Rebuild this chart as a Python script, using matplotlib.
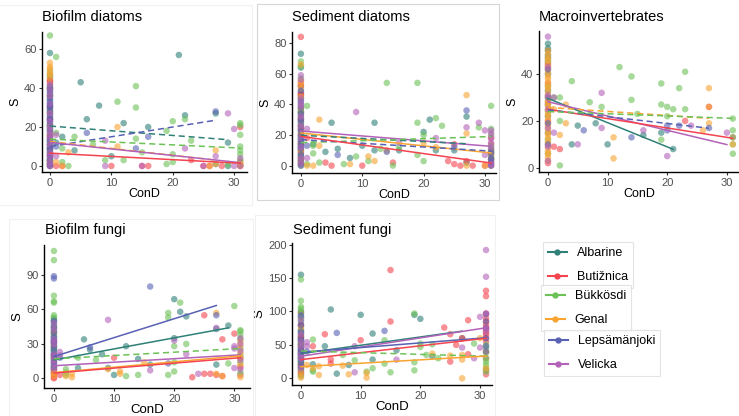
import numpy as np
import matplotlib.pyplot as plt
from matplotlib.lines import Line2D
from matplotlib.patches import Rectangle

plt.rcParams["font.family"] = ["Liberation Sans", "DejaVu Sans"]

RIVERS = ["Albarine", "Butižnica", "Bükkösdi", "Genal", "Lepsämänjoki", "Velicka"]
COLORS = ["#2F8077", "#F4444F", "#6CC257", "#F9A431", "#5861B4", "#B362B9"]

# ---- Biofilm diatoms: (ConD, S) per river
bd_albarine = [(0, 58), (0, 46), (0, 44), (0, 40), (0, 38), (0, 36), (0, 34), (0, 32), (0, 31), (0, 29), (0, 27),
               (0, 25), (0, 24), (0, 22), (0, 21), (0, 20), (0, 19), (0, 17), (0, 16), (0, 14), (0, 13), (0, 12),
               (0, 11), (0, 10), (0, 9), (0, 7), (0, 6), (0, 4), (0, 3), (0, 2), (0, 1),
               (1, 12), (2, 15), (4, 8), (5, 43), (6, 24), (8, 31), (10, 5), (12, 22), (16, 20), (21, 57), (22, 26),
               (27, 27), (29, 12), (29, 0), (27, 1)]
bd_butiznica = [(0, 44), (0, 43), (0, 40), (0, 30), (0, 24), (0, 15), (0, 9), (0, 5), (0, 3), (0, 1), (0, 0),
                (1, 0), (2, 0), (10, 0), (15, 0), (16, 0), (23, 3), (25, 0), (26, 0), (28, 0), (31, 20), (31, 2),
                (31, 0)]
bd_bukkosdi = [(0, 67), (0, 49), (0, 47), (0, 40), (0, 36), (0, 28), (0, 19), (0, 13), (0, 8), (0, 3), (0, 0),
               (1, 56), (1, 17), (2, 9), (2, 2), (3, 0), (4, 15), (7, 11), (9, 3), (11, 33), (12, 3), (14, 41),
               (14, 30), (14, 14), (15, 7), (19, 18), (19, 1), (20, 23), (20, 2), (20, 6), (22, 24), (23, 13),
               (29, 1), (31, 22), (31, 21), (31, 16), (31, 10), (31, 8), (31, 6), (31, 3), (31, 0.5)]
bd_genal = [(0, 53), (0, 51), (0, 50), (0, 48), (0, 47), (0, 45), (0, 42), (0, 36), (0, 27), (0, 21), (0, 16),
            (0, 11), (0, 6), (0, 2), (1, 2), (2, 0), (3, 7), (11, 20), (11, 10), (27, 8), (27, 1), (26, 0),
            (31, 0), (31, 1)]
bd_lepsamanjoki = [(0, 41), (0, 39), (0, 37), (0, 35), (0, 33), (0, 31), (0, 30), (0, 28), (0, 26), (0, 24),
                   (0, 23), (0, 21), (0, 18), (0, 15), (0, 13), (0, 11), (0, 9), (0, 8), (0, 6), (0, 5), (0, 3),
                   (0, 1), (0, 0), (1, 10), (6, 17), (14, 9), (16, 15), (27, 28)]
bd_velicka = [(0, 42), (0, 39), (0, 36), (0, 32), (0, 27), (0, 23), (0, 20), (0, 18), (0, 16), (0, 14), (0, 11),
              (0, 7), (0, 5), (0, 2), (0, 0), (1, 16), (1, 5), (9, 0), (9, 13), (15, 0), (22, 9), (25, 0), (27, 5),
              (29, 27), (30, 19), (31, 0), (31, 4), (30, 0)]
# fitted lines: river, last ConD, S at 0, S at end, significant
bd_fits = [("Albarine", 29, 20.5, 13.5, False), ("Lepsämänjoki", 27, 10, 23.5, False),
           ("Bükkösdi", 31, 13.8, 9.2, False), ("Genal", 27, 12.6, 3, False),
           ("Velicka", 31, 12.1, 1.7, True), ("Butižnica", 31, 6.6, 1.4, True)]

# ---- Sediment diatoms
sd_albarine = [(0, 73), (0, 64), (0, 52), (0, 48), (0, 46), (0, 44), (0, 40), (0, 37), (0, 35), (0, 33), (0, 30),
               (0, 28), (0, 25), (0, 22), (0, 19), (0, 16), (0, 14), (0, 12), (0, 10), (0, 8), (0, 6), (0, 4),
               (0, 1), (2, 14), (4, 9), (5, 28), (6, 11), (8, 5), (10, 13), (12, 28), (12, 10), (16, 10), (20, 22),
               (21, 30), (22, 10), (27, 32), (27, 2), (25, 10)]
sd_butiznica = [(0, 84), (0, 54), (0, 52), (0, 47), (0, 46), (0, 35), (0, 30), (0, 24), (0, 20), (0, 14), (0, 9),
                (0, 5), (0, 2), (1, 18), (4, 2), (5, 0), (10, 0), (15, 2), (24, 3), (25, 1), (26, 0), (28, 0),
                (30, 0), (31, 18), (31, 14), (31, 8), (31, 4), (31, 2), (31, 0), (25, 14), (27, 3)]
sd_bukkosdi = [(0, 68), (0, 65), (0, 57), (0, 43), (0, 35), (0, 27), (0, 18), (0, 11), (0, 6), (0, 0), (1, 39),
               (1, 1), (2, 8), (2, 13), (3, 2), (7, 1), (9, 6), (11, 3), (13, 11), (14, 54), (15, 0), (16, 12),
               (19, 54), (19, 28), (19, 7), (20, 20), (20, 3), (22, 31), (23, 26), (29, 25), (31, 39), (31, 24),
               (31, 20), (31, 13), (31, 11), (31, 9), (31, 6)]
sd_genal = [(0, 66), (0, 55), (0, 53), (0, 50), (0, 45), (0, 38), (0, 31), (0, 26), (0, 21), (0, 15), (0, 10),
            (0, 3), (1, 0), (2, 0), (3, 30), (3, 13), (8, 1), (11, 6), (12, 3), (14, 10), (27, 46), (27, 21),
            (27, 0), (30, 0), (31, 10), (31, 7), (31, 4), (20, 15), (22, 12)]
sd_lepsamanjoki = [(0, 49), (0, 42), (0, 38), (0, 34), (0, 31), (0, 29), (0, 26), (0, 23), (0, 20), (0, 17),
                   (0, 15), (0, 13), (0, 11), (0, 7), (0, 3), (0, 0), (1, 13), (6, 7), (14, 9), (25, 12), (27, 36),
                   (31, 10), (31, 8), (31, 5), (31, 4), (31, 2), (31, 0)]
sd_velicka = [(0, 59), (0, 56), (0, 44), (0, 41), (0, 39), (0, 32), (0, 26), (0, 18), (0, 12), (0, 5), (0, 1),
              (1, 24), (1, 5), (9, 35), (16, 15), (22, 18), (27, 25), (29, 28), (30, 23), (31, 23), (31, 21),
              (31, 18), (31, 15), (31, 12), (30, 7), (31, 1)]
sd_fits = [("Velicka", 31, 22.6, 12.6, True), ("Genal", 31, 21.3, 8.3, True), ("Albarine", 27, 19.8, 14.3, False),
           ("Bükkösdi", 31, 15, 19, False), ("Lepsämänjoki", 31, 17, 9.5, False),
           ("Butižnica", 31, 19.1, 1.7, True)]

# ---- Macroinvertebrates
mi_albarine = [(0, 53), (0, 51), (0, 50), (0, 48), (0, 47), (0, 45), (0, 40), (0, 33), (0, 27), (0, 22), (0, 15),
               (4, 10), (5, 18), (8, 19), (10, 10), (16, 14), (19, 15), (21, 8)]
mi_butiznica = [(0, 44), (0, 36), (0, 28), (0, 20), (0, 2), (1, 9), (2, 8), (23, 20), (27, 26), (31, 13)]
mi_bukkosdi = [(0, 46), (0, 35), (0, 24), (0, 12), (0, 6), (1, 30), (2, 30), (2, 20), (2, 1), (4, 37), (7, 28),
               (9, 26), (12, 43), (14, 39), (14, 29), (15, 23), (19, 36), (19, 27), (19, 12), (20, 26), (20, 22),
               (21, 25), (22, 34), (23, 41), (23, 25), (31, 21), (31, 16), (31, 13), (31, 6), (31, 10)]
mi_genal = [(0, 50), (0, 48.5), (0, 47), (0, 46), (0, 44.5), (0, 43), (0, 42), (0, 40.5), (0, 39), (0, 38),
            (0, 36.5), (0, 35), (0, 34), (0, 32.5), (0, 31), (0, 30), (0, 28.5), (0, 27), (0, 26), (0, 24.5),
            (0, 23), (0, 22), (0, 20.5), (0, 19), (0, 18), (0, 16.5), (0, 15), (0, 14), (0, 12.5), (0, 11),
            (0, 10), (0, 8.5), (0, 7), (0, 6), (0, 4.5), (0, 3), (1, 25), (3, 27), (3, 19), (2, 14), (11, 13),
            (11, 4), (26, 16), (27, 34), (27, 26), (27, 19), (31, 10)]
mi_lepsamanjoki = [(0, 42), (0, 30), (0, 19), (0, 10), (6, 16), (14, 13), (20, 18), (20, 16), (22, 18), (27, 17)]
mi_velicka = [(0, 56), (0, 43), (0, 31), (0, 25), (0, 17), (0, 9), (0, 3), (1, 30), (1, 15), (5, 10), (9, 32),
              (9, 17), (16, 16), (20, 5), (24, 18), (30, 15)]
mi_fits = [("Albarine", 21, 29.6, 7.9, True), ("Velicka", 30, 28.2, 9.9, True), ("Butižnica", 31, 25, 12.6, True),
           ("Lepsämänjoki", 27, 24.7, 16.9, False), ("Genal", 27, 25.8, 21.1, False),
           ("Bükkösdi", 31, 24, 21.1, False)]

# ---- Biofilm fungi
bf_albarine = [(0, 52), (0, 50), (0, 47), (0, 44), (0, 42), (0, 40), (0, 38), (0, 35), (0, 33), (0, 31), (0, 29),
               (0, 27), (0, 26), (0, 24), (0, 22), (0, 20), (0, 19), (0, 17), (0, 15), (0, 13), (0, 11), (0, 9),
               (0, 7), (0, 5), (4, 9), (5, 34), (6, 25), (8, 21), (9, 9), (10, 3), (12, 28), (14, 17), (16, 12),
               (20, 69), (20, 35), (21, 58), (22, 54), (27, 43), (27, 12), (29, 46)]
bf_butiznica = [(0, 32), (0, 20), (0, 8), (0, 5), (0, 3), (0, 1), (0, 0), (1, 3), (10, 18), (23, 1), (25, 4),
                (25, 55), (26, 4), (27, 3), (28, 34), (28, 2), (30, 39), (31, 18), (31, 10), (31, 3)]
bf_bukkosdi = [(0, 111), (0, 103), (0, 72), (0, 67), (0, 66), (0, 55), (0, 53), (0, 45), (0, 36), (0, 24),
               (0, 10), (2, 8), (2, 5), (2, 3), (4, 18), (7, 16), (12, 2), (14, 3), (19, 57), (19, 53), (19, 3),
               (20, 28), (20, 14), (20, 6), (21, 66), (22, 30), (29, 13), (30, 63), (31, 42), (31, 41), (31, 38),
               (31, 34), (31, 26), (31, 20), (31, 14), (31, 5)]
bf_genal = [(0, 40), (0, 28), (0, 17), (0, 5), (0, 2), (2, 2), (3, 1), (3, 4), (9, 8), (11, 6), (11, 4), (15, 14),
            (27, 57), (27, 4), (28, 2), (31, 32), (31, 28), (31, 22), (31, 18), (31, 12), (31, 1)]
bf_lepsamanjoki = [(0, 89), (0, 87), (0, 50), (0, 45), (0, 40), (0, 36), (0, 33), (0, 31), (0, 28), (0, 25),
                   (0, 21), (0, 18), (0, 14), (0, 10), (1, 18), (6, 27), (16, 80), (19, 13), (27, 55)]
bf_velicka = [(0, 48), (0, 43), (0, 34), (0, 30), (0, 21), (0, 16), (0, 13), (0, 8), (1, 23), (1, 20), (9, 51),
              (16, 7), (20, 33), (22, 21), (24, 4), (27, 44), (30, 28), (30, 26), (30, 9), (31, 35), (31, 30),
              (31, 24), (31, 16), (31, 8)]
bf_fits = [("Lepsämänjoki", 27, 19, 63.5, True), ("Albarine", 29, 16, 44, True), ("Bükkösdi", 31, 17, 26, False),
           ("Velicka", 31, 11, 20.5, True), ("Genal", 31, 5, 19.6, True), ("Butižnica", 31, 4.6, 18, True)]

# ---- Sediment fungi
sf_albarine = [(0, 155), (0, 100), (0, 92), (0, 85), (0, 78), (0, 72), (0, 68), (0, 65), (0, 62), (0, 60), (0, 57),
               (0, 55), (0, 52), (0, 50), (0, 47), (0, 45), (0, 42), (0, 40), (0, 37), (0, 35), (0, 32), (0, 30),
               (0, 27), (0, 25), (0, 22), (0, 20), (0, 16), (0, 12), (0, 8), (2, 21), (4, 48), (5, 103), (6, 7),
               (8, 20), (10, 95), (12, 67), (12, 28), (16, 42), (19, 95), (20, 89), (22, 33), (27, 60)]
sf_butiznica = [(0, 98), (0, 80), (0, 62), (0, 40), (0, 20), (0, 10), (0, 5), (2, 48), (4, 66), (5, 28), (5, 22),
                (10, 57), (15, 162), (15, 85), (24, 76), (25, 66), (25, 25), (26, 50), (27, 60), (28, 87),
                (28, 36), (31, 131), (31, 123), (31, 97), (31, 90), (31, 85), (31, 80), (31, 76), (31, 72),
                (31, 68), (31, 65), (31, 60), (31, 55), (31, 30), (31, 12), (31, 6)]
sf_bukkosdi = [(0, 148), (0, 116), (0, 107), (0, 104), (0, 98), (0, 90), (0, 70), (0, 52), (0, 38), (0, 26),
               (0, 14), (0, 3), (2, 58), (2, 12), (2, 10), (7, 35), (9, 27), (11, 10), (12, 15), (14, 57), (14, 22),
               (15, 9), (19, 97), (19, 24), (19, 12), (20, 52), (20, 47), (21, 35), (22, 51), (23, 30), (29, 52),
               (31, 50), (31, 45), (31, 38), (31, 30), (31, 25), (31, 20), (31, 15), (31, 10)]
sf_genal = [(0, 75), (0, 50), (0, 32), (0, 18), (0, 8), (0, 1), (1, 20), (2, 15), (3, 18), (3, 5), (7, 19), (8, 6),
            (11, 8), (11, 1), (22, 37), (25, 34), (27, 35), (27, 28), (27, 0), (30, 60), (31, 40), (31, 15)]
sf_lepsamanjoki = [(0, 94), (0, 80), (0, 70), (0, 58), (0, 50), (0, 43), (0, 38), (0, 35), (0, 30), (0, 24),
                   (0, 18), (1, 40), (6, 68), (14, 71), (31, 96), (31, 85), (31, 75), (31, 60), (31, 48), (31, 40)]
sf_velicka = [(0, 88), (0, 66), (0, 55), (0, 47), (0, 36), (0, 29), (0, 15), (1, 54), (1, 48), (9, 48), (9, 9),
              (16, 28), (27, 46), (29, 30), (30, 92), (30, 46), (31, 192), (31, 152), (31, 97), (31, 75), (31, 70)]
sf_fits = [("Albarine", 27, 37, 70.6, True), ("Velicka", 31, 33, 75.6, True), ("Lepsämänjoki", 31, 39, 60.7, True),
           ("Butižnica", 31, 28, 60, True), ("Bükkösdi", 31, 41, 33, False), ("Genal", 31, 17.4, 33.3, True)]

W, H = 739, 416
fig = plt.figure(figsize=(W / 100, H / 100), dpi=100)


def px_axes(left, top, right, bottom):
    return fig.add_axes([left / W, 1 - bottom / H, (right - left) / W, (bottom - top) / H])


def px_frame(left, top, right, bottom, color):
    fig.add_artist(Rectangle((left / W, 1 - bottom / H), (right - left) / W, (bottom - top) / H,
                             transform=fig.transFigure, fill=False, edgecolor=color, lw=0.8))


# faint frames of the pasted panels
px_frame(-2, 5, 252, 205, "#f1f1f1")
px_frame(9, 219, 253, 420, "#f1f1f1")
px_frame(255, 215, 495, 420, "#f1f1f1")
px_frame(257, 4, 499, 200, "#d6d6d6")

# title, points, fits, axes box (px), xlim, ylim, yticks, title position (px), label size
panels = [
    ("Biofilm diatoms",
     [bd_albarine, bd_butiznica, bd_bukkosdi, bd_genal, bd_lepsamanjoki, bd_velicka], bd_fits,
     (42, 32, 247, 172), (-1.3, 32.1), (-3.1, 68.8), [0, 20, 40, 60], (42, 21), 9),
    ("Sediment diatoms",
     [sd_albarine, sd_butiznica, sd_bukkosdi, sd_genal, sd_lepsamanjoki, sd_velicka], sd_fits,
     (292, 32, 496, 173), (-1.45, 31.8), (-4.8, 87.2), [0, 20, 40, 60, 80], (292, 21), 9),
    ("Macroinvertebrates",
     [mi_albarine, mi_butiznica, mi_bukkosdi, mi_genal, mi_lepsamanjoki, mi_velicka], mi_fits,
     (539, 31, 740, 172), (-1.5, 32.2), (-1.8, 58.4), [0, 20, 40], (539, 21), 9),
    ("Biofilm fungi",
     [bf_albarine, bf_butiznica, bf_bukkosdi, bf_genal, bf_lepsamanjoki, bf_velicka], bf_fits,
     (44, 245, 250, 388), (-1.65, 32.6), (-8.4, 116.2), [0, 30, 60, 90], (45, 234), 9.5),
    ("Sediment fungi",
     [sf_albarine, sf_butiznica, sf_bukkosdi, sf_genal, sf_lepsamanjoki, sf_velicka], sf_fits,
     (292, 243, 492, 385), (-1.5, 32), (-10, 202.5), [0, 50, 100, 150, 200], (293, 234), 9.5),
]

for title, pts, fits, box, xlim, ylim, yticks, tpos, lsize in panels:
    ax = px_axes(*box)
    for i, river in enumerate(RIVERS):
        arr = np.array(pts[i], dtype=float)
        ax.scatter(arr[:, 0], arr[:, 1], s=22, color=COLORS[i], alpha=0.6, edgecolors="none", zorder=2)
    for river, x1, y0, y1, sig in fits:
        i = RIVERS.index(river)
        ax.plot([0, x1], [y0, y1], color=COLORS[i], lw=1.1, zorder=3,
                ls="-" if sig else (0, (4, 2.5)))
    ax.set_xlim(*xlim)
    ax.set_ylim(*ylim)
    ax.set_xticks([0, 10, 20, 30])
    ax.set_yticks(yticks)
    ax.set_facecolor("none")
    for s in ["top", "right"]:
        ax.spines[s].set_visible(False)
    for s in ["left", "bottom"]:
        ax.spines[s].set_linewidth(1.0)
    ax.tick_params(direction="out", length=2.5, width=0.8, color="#333333", labelsize=8,
                   labelcolor="#4D4D4D", pad=1.5)
    ax.set_xlabel("ConD", fontsize=lsize, labelpad=0)
    ax.set_ylabel("S", fontsize=lsize, labelpad=2)
    fig.text(tpos[0] / W, 1 - tpos[1] / H, title, fontsize=10.5, ha="left", va="baseline")

handles = [Line2D([], [], color=c, lw=1.5, marker="o", ms=3.5) for c in COLORS]
groups = [(0, 2, (543, 242)), (2, 4, (541, 285)), (4, 6, (544, 330))]
for a, b, (lx, ly) in groups:
    leg = fig.legend(handles[a:b], RIVERS[a:b], loc="upper left", bbox_to_anchor=(lx / W, 1 - ly / H),
                     fontsize=9, frameon=True, fancybox=False, edgecolor="#dddddd", borderpad=0.4,
                     labelspacing=0.95, handlelength=1.5, handletextpad=0.8, borderaxespad=0)
    leg.get_frame().set_linewidth(0.8)

fig.savefig("out.png", dpi=100, facecolor="white")
